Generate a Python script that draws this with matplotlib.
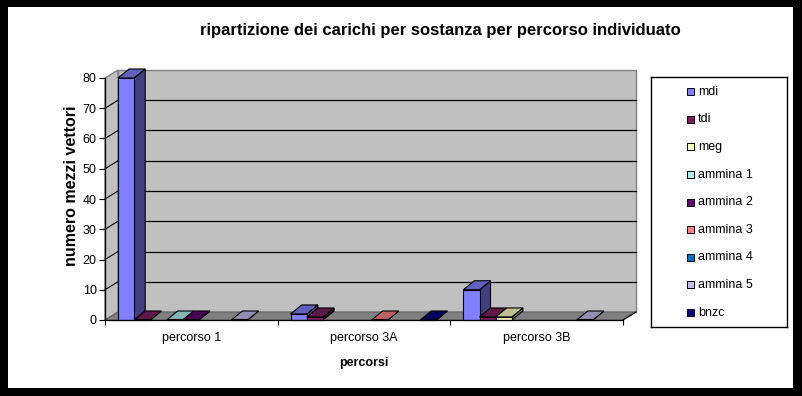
import matplotlib.pyplot as plt
from matplotlib.patches import Rectangle, Polygon
import numpy as np

plt.rcParams['font.family'] = ['Liberation Sans', 'DejaVu Sans']

categories = ['percorso 1', 'percorso 3A', 'percorso 3B']
series = ['mdi', 'tdi', 'meg', 'ammina 1', 'ammina 2', 'ammina 3', 'ammina 4', 'ammina 5', 'bnzc']
nan = np.nan
values = {
    'mdi':      [80, 2, 10],
    'tdi':      [0, 1, 1],
    'meg':      [nan, nan, 1],
    'ammina 1': [0, nan, nan],
    'ammina 2': [0, nan, nan],
    'ammina 3': [nan, 0, nan],
    'ammina 4': [nan, nan, nan],
    'ammina 5': [0, nan, 0],
    'bnzc':     [nan, 0, nan],
}
colors = ['#8080FF', '#802060', '#FFFFC0', '#B0F0F0', '#600070',
          '#FF8080', '#0070C0', '#C0C0F0', '#000080']
yticks = list(range(0, 81, 10))

W_PX, H_PX = 802, 396
fig = plt.figure(figsize=(W_PX / 100, H_PX / 100), dpi=100, facecolor='black')
fig.patches.append(Rectangle((8 / W_PX, 8 / H_PX), 785 / W_PX, 381 / H_PX,
                             transform=fig.transFigure, fc='white', ec='none', zorder=-10))

# front frame of the plot: x 105..623 px, y 320..78 px
ax = fig.add_axes([105 / W_PX, 76 / H_PX, 518 / W_PX, 242 / H_PX])
ax.set_xlim(0, 3)
ax.set_ylim(0, 80)
ax.set_facecolor('none')

# depth offsets in data units (13 px right, 8 px up)
DX = 13 / 518 * 3
DY = 8 / 242 * 80
BDX = 11 / 518 * 3
BDY = 9 / 242 * 80

# walls and floor
ax.add_patch(Rectangle((DX, DY), 3, 80, fc='#C0C0C0', ec='#808080', lw=1, zorder=1, clip_on=False))
ax.add_patch(Polygon([(0, 0), (DX, DY), (DX, 80 + DY), (0, 80)], closed=True,
                     fc='#C0C0C0', ec='#808080', lw=1, zorder=1, clip_on=False))
ax.add_patch(Polygon([(0, 0), (3, 0), (3 + DX, DY), (DX, DY)], closed=True,
                     fc='#808080', ec='#606060', lw=0.8, zorder=1, clip_on=False))
ax.plot([3, 3 + DX], [0, DY], color='black', lw=0.8, zorder=1.2, clip_on=False)
for v in yticks[1:-1]:
    ax.plot([DX, 3 + DX], [v + DY, v + DY], color='black', lw=0.9, zorder=1.5, clip_on=False)
    ax.plot([0, DX], [v, v + DY], color='black', lw=0.8, zorder=1.5, clip_on=False)


def shade(c, f):
    r, g, b = [int(c[k:k + 2], 16) / 255 for k in (1, 3, 5)]
    return (r * f, g * f, b * f)


GROUP_OFF = 13 / 172.7
BAR_W = 16.2 / 172.7
z = 2
for i in range(len(categories)):
    for j, name in enumerate(series):
        h = values[name][i]
        if np.isnan(h):
            continue
        x = i + GROUP_OFF + j * BAR_W
        c = colors[j]
        kw = dict(ec='black', lw=0.8, clip_on=False, zorder=z)
        ax.add_patch(Polygon([(x + BAR_W, 0), (x + BAR_W + BDX, BDY), (x + BAR_W + BDX, h + BDY), (x + BAR_W, h)],
                             closed=True, fc=shade(c, 0.5), **kw))
        ax.add_patch(Polygon([(x, h), (x + BAR_W, h), (x + BAR_W + BDX, h + BDY), (x + BDX, h + BDY)],
                             closed=True, fc=shade(c, 0.75), **kw))
        ax.add_patch(Rectangle((x, 0), BAR_W, max(h, 0.4), fc=c, **kw))
        z += 0.01

for s in ['top', 'right']:
    ax.spines[s].set_visible(False)
for s in ['left', 'bottom']:
    ax.spines[s].set_color('black')
    ax.spines[s].set_linewidth(0.9)
    ax.spines[s].set_zorder(5)

ax.set_yticks(yticks)
ax.tick_params(axis='y', direction='out', length=4.5, width=0.8, labelsize=9, pad=1.5, colors='black')
ax.set_xticks([0, 1, 2, 3])
ax.set_xticklabels([])
ax.tick_params(axis='x', which='major', direction='out', length=3.5, width=0.8)
ax.set_xticks([0.5, 1.5, 2.5], minor=True)
ax.set_xticklabels(categories, minor=True)
ax.tick_params(axis='x', which='minor', length=0, labelsize=9, pad=9)

ax.set_xlabel('percorsi', fontsize=9, fontweight='bold', labelpad=9)
ax.set_ylabel('numero mezzi vettori', fontsize=11.5, fontweight='bold', va='center')
ax.yaxis.set_label_coords(-33 / 518, (320 - 185.5) / 242)

fig.text(440 / W_PX, 1 - 30 / H_PX, 'ripartizione dei carichi per sostanza per percorso individuato',
         ha='center', va='center', fontsize=12, fontweight='bold')

# legend box
lax = fig.add_axes([651 / W_PX, (396 - 327) / H_PX, 136 / W_PX, 250 / H_PX])
lax.set_xlim(0, 136)
lax.set_ylim(250, 0)
lax.set_xticks([])
lax.set_yticks([])
for s in lax.spines.values():
    s.set_color('black')
    s.set_linewidth(1)
for j, name in enumerate(series):
    yc = 14.7 + 27.6 * j
    lax.add_patch(Rectangle((36, yc - 3.5), 7, 7, fc=colors[j], ec='black', lw=0.7))
    lax.text(47, yc, name, fontsize=9, va='center', ha='left')

fig.savefig('out.png', dpi=100, facecolor='black')
